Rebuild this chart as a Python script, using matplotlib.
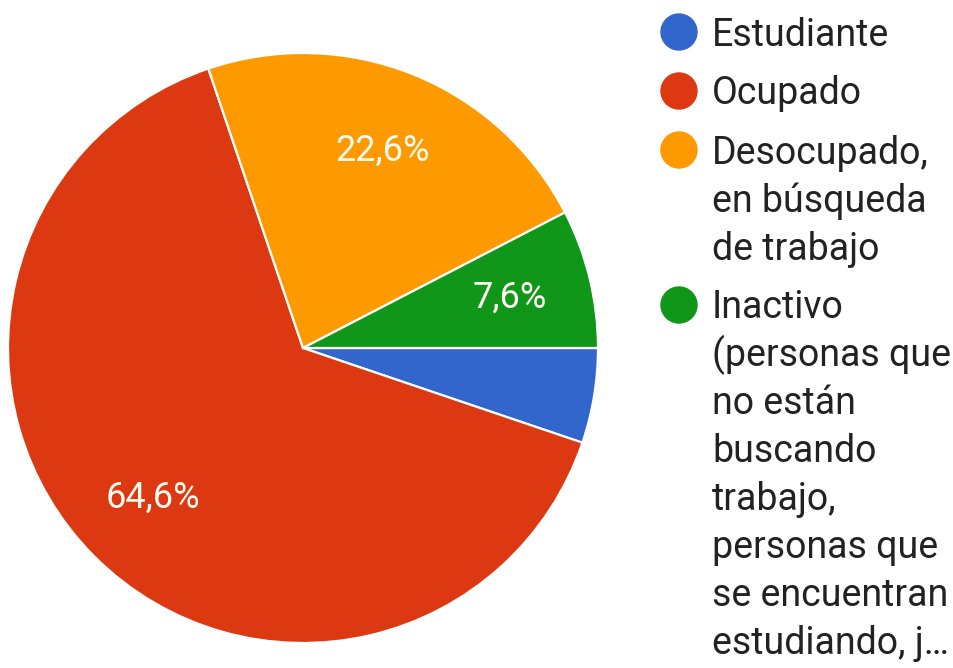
import matplotlib.pyplot as plt
from matplotlib.patches import Circle

plt.rcParams['font.family'] = ['Roboto', 'DejaVu Sans']

# Data (clockwise from 3 o'clock)
categories = ['Estudiante', 'Ocupado', 'Desocupado,\nen búsqueda\nde trabajo',
              'Inactivo\n(personas que\nno están\nbuscando\ntrabajo,\npersonas que\nse encuentran\nestudiando, j…']
values = [5.2, 64.6, 22.6, 7.6]
colors = ['#3366cc', '#dc3912', '#ff9900', '#109618']

W, H = 954, 668
fig = plt.figure(figsize=(W / 100, H / 100), dpi=100)

# Pie: center (303, 348) px from top, radius 295 px
cx, cy, r = 303, 348, 295
ax = fig.add_axes([(cx - r) / W, (H - cy - r) / H, 2 * r / W, 2 * r / H])


def fmt(p):
    # Google hides labels on small slices
    return f"{p:.1f}%".replace('.', ',') if p >= 6 else ''


wedges, texts, autotexts = ax.pie(
    values, colors=colors, startangle=0, counterclock=False,
    autopct=fmt, pctdistance=0.72,
    wedgeprops=dict(edgecolor='white', linewidth=1.6),
    textprops=dict(color='#fdfbf0', fontsize=26))
ax.set_xlim(-1.0, 1.0)
ax.set_ylim(-1.0, 1.0)
ax.set_aspect('equal')
ax.axis('off')

# Legend drawn in pixel coordinates
lg = fig.add_axes([0, 0, 1, 1])
lg.set_xlim(0, W)
lg.set_ylim(H, 0)
lg.axis('off')

y = 32
for label, color in zip(categories, colors):
    lg.add_patch(Circle((679, y), 18, color=color))
    lines = label.split('\n')
    for i, line in enumerate(lines):
        lg.text(712, y + i * 48 + 13.5, line, fontsize=27, color='#222222',
                va='baseline', ha='left')
    y += (len(lines) - 1) * 48 + 59

fig.savefig('out.png', dpi=100, facecolor='white')
